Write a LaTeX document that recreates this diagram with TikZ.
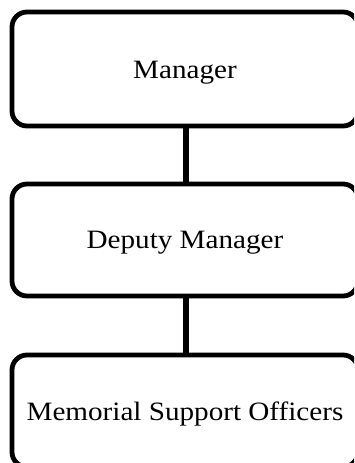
\documentclass[tikz,border=0pt]{standalone}
\usepackage{fontspec}
\setmainfont[FakeStretch=1.1]{Liberation Serif}
\tikzset{
  box/.style={draw=black, line width=4.8pt, rounded corners=15pt, inner sep=0pt,
    minimum width=346pt, text depth=0pt, font=\fontsize{26.5}{30}\selectfont},
  link/.style={draw=black, line width=5.3pt}
}
\begin{document}
\begin{tikzpicture}[x=1pt,y=-1pt]
\useasboundingbox (0,0) rectangle (354,463);
\clip (0,0) rectangle (354,463);
\node[box, minimum height=114pt] (m) at (185,69) {\raisebox{-2pt}{Manager}};
\node[box, minimum height=112pt] (d) at (185,240) {Deputy Manager};
\node[box, minimum height=112pt] (o) at (185,411) {Memorial Support Officers};
\draw[link] ([xshift=1pt]m.south) -- ([xshift=1pt]d.north);
\draw[link] ([xshift=1pt]d.south) -- ([xshift=1pt]o.north);
\end{tikzpicture}
\end{document}
